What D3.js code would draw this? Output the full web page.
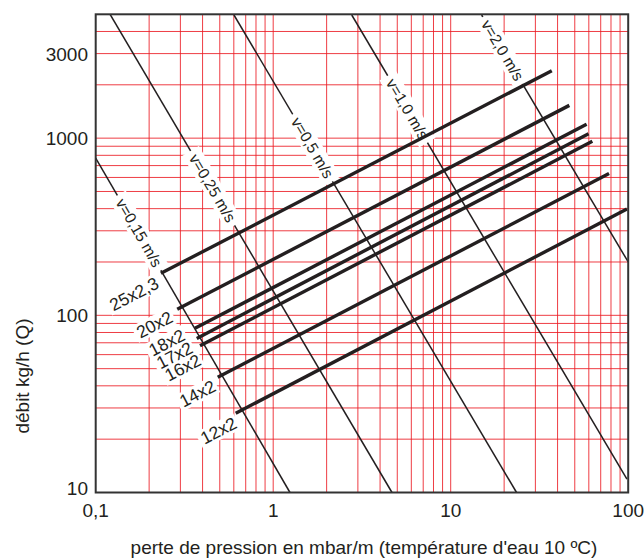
<!DOCTYPE html>
<html>
<head>
<meta charset="utf-8">
<script src="https://cdn.jsdelivr.net/npm/d3@7"></script>
<style>
  html, body { margin: 0; padding: 0; background: #fff; }
  svg { display: block; font-family: "Liberation Sans", Arial, Helvetica, sans-serif; }
</style>
</head>
<body>
<svg id="chart" width="644" height="559"></svg>
<script>
// ---- data ----
const xTickValues = [0.1, 1, 10, 100];
const xTickLabels = ["0,1", "1", "10", "100"];
const yTickValues = [10, 100, 1000, 3000];
const yTickLabels = ["10", "100", "1000", "3000"];

const pipeNames  = ["25x2,3", "20x2", "18x2", "17x2", "16x2", "14x2", "12x2"];
const pipeStartR = [0.233, 0.288, 0.3625, 0.371, 0.387, 0.487, 0.615];
const pipeStartQ = [172.6, 108.2, 84.5, 74.1, 67.3, 44.7, 28.0];
const pipeEndR   = [37.1, 46.6, 58.3, 59.8, 62.8, 78.0, 98.4];
const pipeEndQ   = [2399, 1531, 1197, 1059, 959, 632, 398];

const velNames   = ["v=0,15 m/s", "v=0,25 m/s", "v=0,5 m/s", "v=1,0 m/s", "v=2,0 m/s"];
const velStartR  = [0.1, 0.1205, 0.601, 2.77, 14.94];
const velStartQ  = [772, 5000, 4955, 4955, 4955];
const velEndR    = [1.243, 4.67, 23.5, 98.4, 100];
const velEndQ    = [10, 10, 10, 11.9, 200];
const velLabelR  = [0.1755, 0.455, 1.665, 5.71, 19.6];

const xTitle = "perte de pression en mbar/m (température d'eau 10 ºC)";
const yTitle = "débit kg/h (Q)";

// ---- layout ----
const svg = d3.select("#chart");
const pLeft = 95.7, pRight = 628.2, pTop = 14.3, pBottom = 492.5;
const x = d3.scaleLog().domain([0.1, 100]).range([pLeft, pRight]);
const y = d3.scaleLog().domain([10, 5000]).range([pBottom, pTop]);
const gridColor = "#ec1c24";
const ink = "#231f20";
// small screen-space nudges so the stacked pipe labels do not collide
const pipeLabelNudge = [[0, 0], [-2.5, -2], [-8, -3], [-2, -0.5], [3, 4.5], [0, -1], [3, 0]];

svg.append("clipPath").attr("id", "plotclip")
  .append("rect").attr("x", pLeft).attr("y", pTop)
  .attr("width", pRight - pLeft).attr("height", pBottom - pTop);

// grid
const gGrid = svg.append("g").attr("clip-path", "url(#plotclip)");
const xGrid = x.ticks().filter(v => v > 0.1 * 1.0001 && v < 100 * 0.9999);
const yGrid = y.ticks().filter(v => v > 10 * 1.0001 && v < 5000 * 0.9999);
gGrid.selectAll("line.vx").data(xGrid).join("line")
  .attr("x1", d => x(d)).attr("x2", d => x(d))
  .attr("y1", pTop).attr("y2", pBottom)
  .attr("stroke", gridColor).attr("stroke-width", 1).attr("opacity", 0.85);
gGrid.selectAll("line.hy").data(yGrid).join("line")
  .attr("y1", d => y(d)).attr("y2", d => y(d))
  .attr("x1", pLeft).attr("x2", pRight)
  .attr("stroke", gridColor).attr("stroke-width", 1).attr("opacity", 0.85);

// velocity lines
const gPlot = svg.append("g").attr("clip-path", "url(#plotclip)");
const vel = velNames.map((n, i) => ({
  name: n, r0: velStartR[i], q0: velStartQ[i], r1: velEndR[i], q1: velEndQ[i], lr: velLabelR[i]
}));
gPlot.selectAll("line.vel").data(vel).join("line")
  .attr("x1", d => x(d.r0)).attr("y1", d => y(d.q0))
  .attr("x2", d => x(d.r1)).attr("y2", d => y(d.q1))
  .attr("stroke", ink).attr("stroke-width", 1.5);

const gRects = svg.append("g");
const gTexts = svg.append("g");

// velocity labels
vel.forEach(d => {
  const lx0 = Math.log10(d.r0), lx1 = Math.log10(d.r1);
  const ly0 = Math.log10(d.q0), ly1 = Math.log10(d.q1);
  const t = (Math.log10(d.lr) - lx0) / (lx1 - lx0);
  const qL = Math.pow(10, ly0 + t * (ly1 - ly0));
  const px = x(d.lr), py = y(qL);
  const ang = Math.atan2(y(d.q1) - y(d.q0), x(d.r1) - x(d.r0)) * 180 / Math.PI;
  const tf = `translate(${px},${py}) rotate(${ang})`;
  const txt = gTexts.append("text").attr("transform", tf).text(d.name)
    .attr("text-anchor", "middle").attr("dy", "0.35em")
    .attr("font-size", 15.5).attr("fill", ink);
  const bb = txt.node().getBBox();
  gRects.append("rect").attr("transform", tf).attr("fill", "#fff")
    .attr("x", bb.x - 5).attr("y", bb.y - 1).attr("width", bb.width + 10).attr("height", bb.height + 2);
});

// pipe labels
const pipes = pipeNames.map((n, i) => ({
  name: n, r0: pipeStartR[i], q0: pipeStartQ[i], r1: pipeEndR[i], q1: pipeEndQ[i], nudge: pipeLabelNudge[i]
}));
pipes.forEach(d => {
  const ang = Math.atan2(y(d.q1) - y(d.q0), x(d.r1) - x(d.r0)) * 180 / Math.PI;
  const tf = `translate(${x(d.r0) + d.nudge[0]},${y(d.q0) + d.nudge[1]}) rotate(${ang})`;
  const txt = gTexts.append("text").attr("transform", tf).text(d.name)
    .attr("x", -7).attr("y", 6).attr("dy", "0.35em")
    .attr("text-anchor", "end")
    .attr("font-size", 17.5).attr("fill", ink);
  const bb = txt.node().getBBox();
  gRects.append("rect").attr("transform", tf).attr("fill", "#fff")
    .attr("x", bb.x - 3).attr("y", bb.y + 1).attr("width", bb.width + 5).attr("height", bb.height - 2);
});

// pipe lines (on top)
svg.append("g").attr("clip-path", "url(#plotclip)")
  .selectAll("line.pipe").data(pipes).join("line")
  .attr("x1", d => x(d.r0)).attr("y1", d => y(d.q0))
  .attr("x2", d => x(d.r1)).attr("y2", d => y(d.q1))
  .attr("stroke", ink).attr("stroke-width", 3.4).attr("stroke-linecap", "butt");

// frame
svg.append("rect").attr("x", pLeft).attr("y", pTop)
  .attr("width", pRight - pLeft).attr("height", pBottom - pTop)
  .attr("fill", "none").attr("stroke", "#333").attr("stroke-width", 2);

// axes tick labels
svg.append("g").selectAll("text").data(xTickValues).join("text")
  .attr("x", d => x(d)).attr("y", 517)
  .attr("text-anchor", "middle").attr("font-size", 19).attr("fill", ink)
  .text((d, i) => xTickLabels[i]);
svg.append("g").selectAll("text").data(yTickValues).join("text")
  .attr("x", 88).attr("y", d => Math.min(y(d) + 7, 495))
  .attr("text-anchor", "end").attr("font-size", 19).attr("fill", ink)
  .text((d, i) => yTickLabels[i]);

// titles
svg.append("text").attr("x", 364).attr("y", 554)
  .attr("text-anchor", "middle").attr("font-size", 19).attr("fill", ink)
  .text(xTitle);
svg.append("text").attr("transform", "translate(29,376) rotate(-90)")
  .attr("text-anchor", "middle").attr("font-size", 19).attr("fill", ink)
  .text(yTitle);
</script>
</body>
</html>
